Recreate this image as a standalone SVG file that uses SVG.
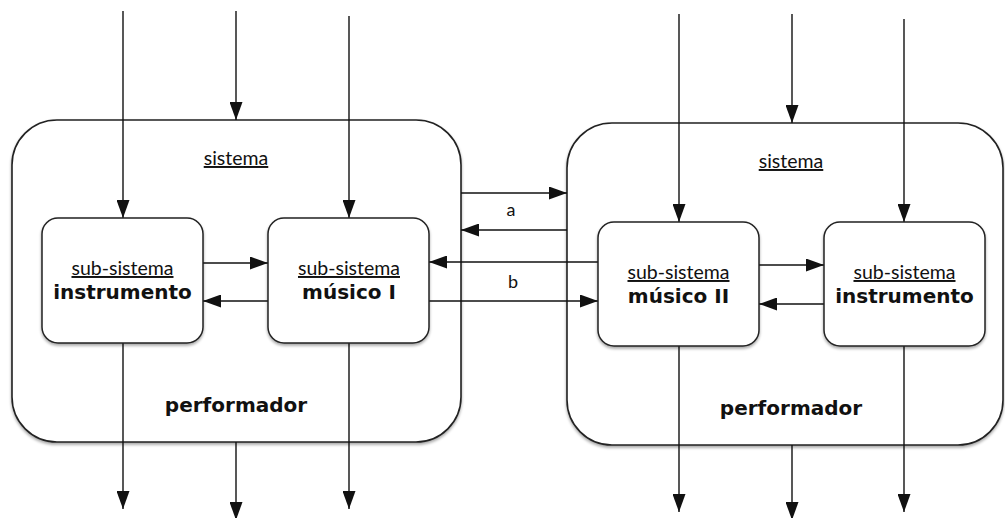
<svg xmlns="http://www.w3.org/2000/svg" width="1005" height="518" viewBox="0 0 1005 518">
  <style>
    .sys { fill: #fff; stroke: #222; stroke-width: 1.6; filter: url(#shadow); }
    .sub { fill: #fff; stroke: #222; stroke-width: 1.5; filter: url(#shadow); }
    .wire { fill: none; stroke: #111; stroke-width: 1.4; marker-end: url(#head); }
    text { font-family: Lato, "Open Sans", "Liberation Sans", sans-serif; fill: #111; text-anchor: middle; }
    .u { font-size: 19.5px; text-decoration: underline; }
    .b { font-family: "DejaVu Sans", "Liberation Sans", sans-serif; font-size: 20px; font-weight: bold; }
    .lbl { font-size: 18px; }
  </style>
  <defs>
    <marker id="head" viewBox="0 0 18 13" refX="18" refY="6.5" markerWidth="18" markerHeight="13" markerUnits="userSpaceOnUse" orient="auto">
      <path d="M0,0 L18,6.5 L0,13 Z" fill="#111"/>
    </marker>
    <filter id="shadow" x="-5%" y="-5%" width="110%" height="115%">
      <feGaussianBlur in="SourceAlpha" stdDeviation="1.5"/>
      <feOffset dx="0" dy="2" result="o"/>
      <feComponentTransfer><feFuncA type="linear" slope="0.35"/></feComponentTransfer>
      <feMerge><feMergeNode/><feMergeNode in="SourceGraphic"/></feMerge>
    </filter>
  </defs>

  <!-- performer systems -->
  <g id="sistema-1">
    <rect class="sys" x="12" y="120" width="449" height="322" rx="45" ry="45"/>
    <text class="u" x="236" y="165">sistema</text>
    <text class="b" x="236" y="412">performador</text>
  </g>
  <g id="sistema-2">
    <rect class="sys" x="567" y="123" width="436" height="322" rx="45" ry="45"/>
    <text class="u" x="791" y="168">sistema</text>
    <text class="b" x="791" y="415">performador</text>
  </g>

  <!-- connectors -->
  <g id="connectors">
    <!-- inputs from above -->
    <line class="wire" x1="123" y1="11" x2="123" y2="218"/>
    <line class="wire" x1="236" y1="11" x2="236" y2="120"/>
    <line class="wire" x1="349" y1="16" x2="349" y2="218"/>
    <line class="wire" x1="679" y1="14" x2="679" y2="222"/>
    <line class="wire" x1="792" y1="14" x2="792" y2="123"/>
    <line class="wire" x1="904" y1="19" x2="904" y2="222"/>
    <!-- outputs below -->
    <line class="wire" x1="123" y1="343" x2="123" y2="509"/>
    <line class="wire" x1="236" y1="442" x2="236" y2="520"/>
    <line class="wire" x1="349" y1="343" x2="349" y2="509"/>
    <line class="wire" x1="679" y1="346" x2="679" y2="512"/>
    <line class="wire" x1="792" y1="445" x2="792" y2="520"/>
    <line class="wire" x1="904" y1="346" x2="904" y2="512"/>
    <!-- inside system 1 -->
    <line class="wire" x1="203" y1="263" x2="268" y2="263"/>
    <line class="wire" x1="268" y1="301" x2="203" y2="301"/>
    <!-- inside system 2 -->
    <line class="wire" x1="759" y1="265" x2="824" y2="265"/>
    <line class="wire" x1="824" y1="304" x2="759" y2="304"/>
    <!-- a: system to system -->
    <line class="wire" x1="461" y1="193" x2="567" y2="193"/>
    <line class="wire" x1="567" y1="230" x2="461" y2="230"/>
    <!-- b: músico to músico -->
    <line class="wire" x1="598" y1="262" x2="429" y2="262"/>
    <line class="wire" x1="429" y1="301" x2="598" y2="301"/>
    <text class="lbl" x="511" y="216">a</text>
    <text class="lbl" x="513" y="288">b</text>
  </g>

  <!-- sub-systems -->
  <g id="instrumento-1">
    <rect class="sub" x="42" y="218" width="161" height="125" rx="16" ry="16"/>
    <text class="u" x="122.5" y="275">sub-sistema</text>
    <text class="b" x="122.5" y="299">instrumento</text>
  </g>
  <g id="musico-1">
    <rect class="sub" x="268" y="218" width="161" height="125" rx="16" ry="16"/>
    <text class="u" x="349" y="275">sub-sistema</text>
    <text class="b" x="349" y="299">músico I</text>
  </g>
  <g id="musico-2">
    <rect class="sub" x="598" y="222" width="161" height="124" rx="16" ry="16"/>
    <text class="u" x="678.5" y="279">sub-sistema</text>
    <text class="b" x="678.5" y="303">músico II</text>
  </g>
  <g id="instrumento-2">
    <rect class="sub" x="824" y="222" width="161" height="124" rx="16" ry="16"/>
    <text class="u" x="904.5" y="279">sub-sistema</text>
    <text class="b" x="904.5" y="303">instrumento</text>
  </g>
</svg>
